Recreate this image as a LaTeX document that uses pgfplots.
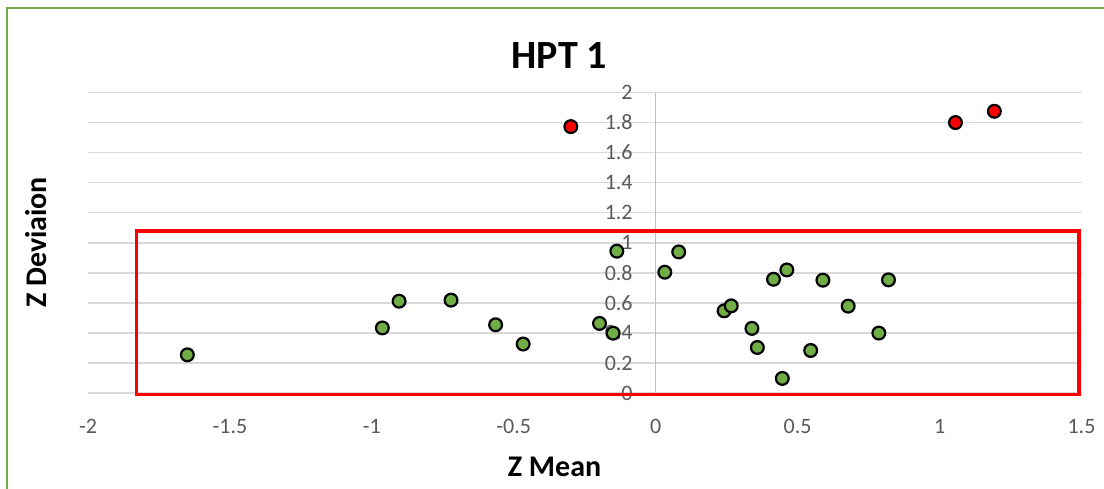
\documentclass[border=0pt]{standalone}
\usepackage{fontspec}
\setmainfont{Carlito}
\usepackage{pgfplots}
\pgfplotsset{compat=1.18}
\definecolor{xlgreen}{HTML}{70AD47}
\definecolor{xlred}{HTML}{FF0000}
\definecolor{gridgrey}{HTML}{D9D9D9}
\definecolor{axisgrey}{HTML}{BFBFBF}
\definecolor{ticktext}{HTML}{595959}
\begin{document}
\begin{tikzpicture}
\begin{axis}[
  set layers=standard,
  at={(0,0)}, anchor=south west,
  scale only axis, width=496.75pt, height=150.25pt,
  xmin=-2, xmax=1.5, ymin=0, ymax=2,
  clip=false,
  axis line style={draw=none},
  major tick length=0pt,
  xtick={-2,-1.5,-1,-0.5,0,0.5,1,1.5},
  xticklabels={-2,-1.5,-1,-0.5,0,0.5,1,1.5},
  ytick={0,0.2,0.4,0.6,0.8,1,1.2,1.4,1.6,1.8,2},
  yticklabels={0,0.2,0.4,0.6,0.8,1,1.2,1.4,1.6,1.8,2},
  ymajorgrids, xmajorgrids=false,
  grid style={draw=gridgrey, line width=0.75pt},
  tick label style={font=\fontsize{11}{13}\selectfont, text=ticktext},
  xticklabel style={anchor=base, inner sep=0pt, yshift=-20.2pt},
  yticklabel style={anchor=east, inner sep=0pt, xshift=272.5pt},
]
\addplot[draw=axisgrey, line width=0.6pt] coordinates {(0,0) (0,2)};
\addplot[draw=xlred, line width=1.75pt, line join=miter] coordinates {(-1.829,-0.009) (1.492,-0.009) (1.492,1.078) (-1.829,1.078) (-1.829,-0.009)} -- cycle;
\addplot[only marks, mark=*, mark size=3.2pt, mark options={fill=xlgreen, draw=black, line width=1.1pt}] coordinates {
(-1.650,0.254) (-0.963,0.433) (-0.904,0.611) (-0.721,0.618) (-0.564,0.454)
(-0.467,0.326) (-0.198,0.463) (-0.150,0.398) (-0.137,0.944) (0.032,0.804)
(0.081,0.939) (0.241,0.547) (0.266,0.580) (0.339,0.430) (0.358,0.303)
(0.415,0.757) (0.462,0.819) (0.446,0.097) (0.546,0.283) (0.589,0.751)
(0.678,0.578) (0.786,0.399) (0.820,0.753)
};
\addplot[only marks, mark=*, mark size=3.2pt, mark options={fill=xlred, draw=black, line width=1.1pt}] coordinates {
(-0.299,1.773) (1.056,1.800) (1.193,1.875)
};
\end{axis}
\node[anchor=base, font=\fontsize{20}{24}\selectfont\bfseries] at (235.75pt,162.35pt) {HPT 1};
\node[anchor=base, font=\fontsize{15}{18}\selectfont\bfseries] at (233.25pt,-41.85pt) {Z Mean};
\node[anchor=base, rotate=90, font=\fontsize{15}{18}\selectfont\bfseries] at (-20.5pt,75.25pt) {Z Deviaion};
\draw[xlgreen, line width=1.2pt] (-40.5pt,-60pt) -- (-40.5pt,192.5pt) -- (520pt,192.5pt);
\pgfresetboundingbox
\path[use as bounding box] (-44pt,-47.5pt) rectangle (508pt,196.5pt);
\end{tikzpicture}
\end{document}
